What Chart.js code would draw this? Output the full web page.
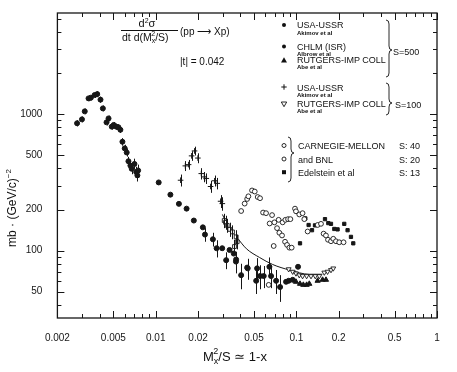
<!DOCTYPE html>
<html><head><meta charset="utf-8">
<script src="https://cdn.jsdelivr.net/npm/chart.js@4/dist/chart.umd.min.js"></script>
<style>
html,body{margin:0;padding:0;background:#fff;}
#wrap{position:relative;width:457px;height:372px;overflow:hidden;background:#fff;}
#c{position:absolute;left:0;top:0;}
#ov{position:absolute;left:0;top:0;}
</style></head><body>
<div id="wrap">
<canvas id="c" width="457" height="372"></canvas>
<svg id="ov" width="457" height="372" font-family="Liberation Sans, Arial, sans-serif" fill="#111">
  <!-- formula -->
  <text x="147" y="27" font-size="11" text-anchor="middle">d<tspan dy="-4" font-size="7">2</tspan><tspan dy="4">σ</tspan></text>
  <line x1="121" y1="30.5" x2="178" y2="30.5" stroke="#111" stroke-width="1"/>
  <text x="122" y="41" font-size="10.5">dt d(M<tspan font-size="7" dy="2">x</tspan><tspan font-size="7" dx="-4" dy="-7">2</tspan><tspan dy="5">/S)</tspan></text>
  <text x="180" y="35" font-size="10">(pp ⟶ Xp)</text>
  <text x="180" y="65" font-size="10">|t| = 0.042</text>
  <!-- legend markers -->
  <circle cx="284" cy="25" r="2"/>
  <circle cx="284" cy="46.5" r="2"/>
  <path d="M281 62.5 L287 62.5 L284 57.3 Z"/>
  <path d="M281.3 87 H286.7 M284 84.3 V89.7" stroke="#111" stroke-width="1"/>
  <path d="M281.3 102 L286.7 102 L284 106.7 Z" fill="none" stroke="#111" stroke-width="0.9"/>
  <circle cx="284" cy="145.5" r="2" fill="none" stroke="#111" stroke-width="0.9"/>
  <circle cx="284" cy="159" r="2" fill="none" stroke="#111" stroke-width="0.9"/>
  <rect x="282" y="170.2" width="4" height="4"/>
  <!-- legend text -->
  <text x="297" y="28" font-size="9">USA-USSR</text>
  <text x="297" y="34.5" font-size="6" font-weight="bold">Akimov et al</text>
  <text x="297" y="49.8" font-size="9">CHLM (ISR)</text>
  <text x="297" y="55.5" font-size="6" font-weight="bold">Albrow et al</text>
  <text x="297" y="63" font-size="9">RUTGERS-IMP COLL</text>
  <text x="297" y="69" font-size="6" font-weight="bold">Abe  et al</text>
  <text x="297" y="90.5" font-size="9">USA-USSR</text>
  <text x="297" y="96.5" font-size="6" font-weight="bold">Akimov et al</text>
  <text x="297" y="107" font-size="9">RUTGERS-IMP COLL</text>
  <text x="297" y="113" font-size="6" font-weight="bold">Abe  et al</text>
  <text x="298" y="149" font-size="9">CARNEGIE-MELLON</text>
  <text x="298" y="162.5" font-size="9">and BNL</text>
  <text x="298" y="175.5" font-size="9">Edelstein et al</text>
  <text x="393" y="55" font-size="9">S=500</text>
  <text x="395" y="108" font-size="9">S=100</text>
  <text x="399" y="149" font-size="9">S: 40</text>
  <text x="399" y="162.5" font-size="9">S: 20</text>
  <text x="399" y="175.5" font-size="9">S:  13</text>
  <!-- braces -->
  <path d="M386 20 Q389 20 389 24 L389 46 Q389 50 392 50 Q389 50 389 54 L389 73 Q389 77 386 77" fill="none" stroke="#111" stroke-width="0.9"/>
  <path d="M386 83 Q389 83 389 87 L389 99 Q389 103 392 103 Q389 103 389 107 L389 111 Q389 115 386 115" fill="none" stroke="#111" stroke-width="0.9"/>
  <path d="M288 137 Q291 137 291 141 L291 149 Q291 153 294 153 Q291 153 291 157 L291 178 Q291 182 288 182" fill="none" stroke="#111" stroke-width="0.9"/>
  <!-- axis titles -->
  <text transform="translate(16,208) rotate(-90)" text-anchor="middle" font-size="12">mb · (GeV/c)<tspan dy="-5" font-size="8">−2</tspan></text>
  <text x="203" y="361" font-size="13">M<tspan font-size="9" dy="3">x</tspan><tspan font-size="9" dx="-5" dy="-10">2</tspan><tspan dy="7">/S  ≃  1-x</tspan></text>
</svg>
</div>
<script>
// ---------- tick labels ----------
const xTickValues = [0.002, 0.005, 0.01, 0.02, 0.05, 0.1, 0.2, 0.5, 1];
const yTickValues = [50, 100, 200, 500, 1000];

// ---------- S=500 : USA-USSR (Akimov et al), filled circles ----------
const usa500X = [0.00276,0.00299,0.00313,0.00333,0.00346,0.00368,0.00384,0.00405,0.00421,0.00447,0.00462,0.00487,0.00503,0.00524,0.00543,0.00561,0.0058,0.00602,0.00622,0.0064,0.00661,0.00675,0.00706,0.00727,0.0075,0.00741,
                 0.0224,0.0255,0.0271,0.0317,0.0372,0.0405,0.0451,0.0526,0.0518,0.0552,0.0586,0.0643,0.0661,0.0718,0.0766];
const usa500Y = [859,917,1050,1307,1323,1383,1405,1280,1104,872,932,811,835,811,803,769,628,562,524,452,420,398,432,377,387,356,
                 131,121,104,85,83,66,74,74,60,65,65,76,65,60,54];
const usa500Err = [45,45,50,60,60,65,70,65,55,45,45,40,40,40,40,40,40,35,35,35,35,35,40,35,40,35,
                   15,14,15,12,15,14,13,14,12,13,12,13,12,12,12];

// ---------- S=500 : CHLM (ISR) (Albrow et al), filled dots ----------
const chlmX = [0.0105,0.01272,0.01462,0.01658,0.01867,0.02164,0.0297,0.0335,0.0359,0.0373,0.0447,0.0845,0.0882,0.0942,0.1028];
const chlmY = [316,257,220,203,166,148,104,101,95,86,75,59,60,61,76];

// ---------- S=500 : RUTGERS-IMP COLL (Abe et al), filled triangles ----------
const rut500X = [0.0994,0.1062,0.1121,0.1183,0.1236,0.1416,0.1536,0.1624];
const rut500Y = [59,57,56,56,57,60,61,61];

// ---------- S=100 : USA-USSR (Akimov et al), crosses ----------
const usa100X = [0.01503,0.01624,0.01713,0.018,0.01889,0.01995,0.02109,0.02215,0.02289,0.02456,0.02622,0.0274,0.02893,0.02976];
const usa100Y = [328,418,427,495,538,477,367,347,338,295,325,311,230,221];
const usa100Err = [33,35,35,40,40,40,35,30,30,30,30,30,25,25];

// ---------- S=100 : RUTGERS-IMP COLL (Abe et al), open triangles / boxes ----------
const rut100X = [0.0882,0.0942,0.0994,0.1049,0.1107,0.1183,0.1271,0.1363,0.1456,0.158,0.1667,0.1763,0.183];
const rut100Y = [73,70,68,66,65,65,65,65,65,69,70,72,74];
const rut100BoxX = [0.0307,0.03135,0.03223,0.03363,0.03515,0.03733,0.03632,0.03795];
const rut100BoxY = [166,161,153,143,137,126,107,116];
const rut100BoxErr = [20,19,18,17,16,15,13,14];

// ---------- S=40 / S=20 : CARNEGIE-MELLON and BNL, open circles ----------
const cm40X = [0.0405,0.0429,0.0447,0.0456,0.0484,0.0506,0.0531,0.0552,0.058,0.0609,0.0646,0.0672,0.069,0.0698,0.0729,0.0748,0.0757,0.0791,0.0831,0.0859,0.0892,0.0926,0.0636];
const cm40Y = [195,221,239,250,276,271,247,242,190,188,158,182,108,161,146,168,135,129,116,110,105,105,56];
const cm20X = [0.0799,0.0835,0.0873,0.0907,0.0978,0.0994,0.1049,0.1107,0.1139,0.1203,0.1416,0.1497,0.1562,0.1624,0.1679,0.1763,0.183,0.1912,0.2018,0.2166];
const cm20Y = [161,168,170,170,203,194,184,188,170,138,154,157,133,129,120,117,122,117,115,115];

// ---------- S=13 : Edelstein et al, filled squares ----------
const ed13X = [0.1062,0.1158,0.1222,0.1292,0.1357,0.1598,0.1687,0.1763,0.1861,0.1964,0.2191,0.2313,0.2445,0.2539];
const ed13Y = [113,172,154,141,153,170,159,157,144,143,157,141,126,113];

// ---------- fitted curve ----------
const fitX = [0.0298,0.0335,0.0375,0.0442,0.0547,0.0679,0.0892,0.1236,0.1528];
const fitY = [184,144,126,103,89,79,72,67,67];

// ---------- build ----------
const pts = (xs, ys) => xs.map((x, i) => ({x: x, y: ys[i]}));
const INK = '#161616';

function minorList(lo, hi) {
  const out = [];
  for (let d = -3; d <= 4; d++) {
    for (let m = 1; m <= 9; m++) {
      const v = +(m * Math.pow(10, d)).toPrecision(6);
      if (v >= lo * 0.9999 && v <= hi * 1.0001) out.push(v);
    }
  }
  return out;
}
const X_MIN = 0.002, X_MAX = 1, Y_MIN = 32, Y_MAX = 5530;

const framePlugin = {
  id: 'frame',
  afterDatasetsDraw(chart) {
    const ctx = chart.ctx, xs = chart.scales.x, ys = chart.scales.y;
    ctx.save();
    ctx.strokeStyle = INK;
    ctx.lineWidth = 1;
    chart.data.datasets.forEach(ds => {
      if (!ds.errs) return;
      ds.data.forEach((p, i) => {
        const e = ds.errs[i];
        if (!e) return;
        const px = Math.round(xs.getPixelForValue(p.x)) + 0.5;
        ctx.beginPath();
        ctx.moveTo(px, ys.getPixelForValue(p.y + e));
        ctx.lineTo(px, ys.getPixelForValue(Math.max(p.y - e, 1)));
        ctx.stroke();
      });
    });
    ctx.restore();
  },
  afterDraw(chart) {
    const ctx = chart.ctx, a = chart.chartArea, xs = chart.scales.x, ys = chart.scales.y;
    ctx.save();
    ctx.strokeStyle = INK;
    ctx.lineWidth = 1.3;
    ctx.strokeRect(a.left, a.top, a.right - a.left, a.bottom - a.top);
    ctx.lineWidth = 1;
    const line = (x1, y1, x2, y2) => { ctx.beginPath(); ctx.moveTo(x1, y1); ctx.lineTo(x2, y2); ctx.stroke(); };
    minorList(X_MIN, X_MAX).forEach(v => {
      const px = Math.round(xs.getPixelForValue(v)) + 0.5;
      const L = xTickValues.includes(v) ? 7 : 4;
      line(px, a.bottom, px, a.bottom - L);
      line(px, a.top, px, a.top + L);
    });
    minorList(Y_MIN, Y_MAX).forEach(v => {
      const py = Math.round(ys.getPixelForValue(v)) + 0.5;
      const L = yTickValues.includes(v) ? 7 : 4;
      line(a.left, py, a.left + L, py);
      line(a.right, py, a.right - L, py);
    });
    ctx.restore();
  }
};

const ptDefaults = {showLine: false, borderColor: INK, borderWidth: 1};

new Chart(document.getElementById('c'), {
  type: 'scatter',
  data: {
    datasets: [
      Object.assign({}, ptDefaults, {label: 'USA-USSR S=500', data: pts(usa500X, usa500Y), errs: usa500Err, pointStyle: 'circle', pointRadius: 2.5, backgroundColor: INK}),
      Object.assign({}, ptDefaults, {label: 'CHLM (ISR) S=500', data: pts(chlmX, chlmY), pointStyle: 'circle', pointRadius: 2.5, backgroundColor: INK}),
      Object.assign({}, ptDefaults, {label: 'RUTGERS-IMP COLL S=500', data: pts(rut500X, rut500Y), pointStyle: 'triangle', pointRadius: 3, backgroundColor: INK}),
      Object.assign({}, ptDefaults, {label: 'USA-USSR S=100', data: pts(usa100X, usa100Y), errs: usa100Err, pointStyle: 'cross', pointRadius: 2.8, backgroundColor: INK}),
      Object.assign({}, ptDefaults, {label: 'RUTGERS-IMP COLL S=100', data: pts(rut100X, rut100Y), pointStyle: 'triangle', rotation: 180, pointRadius: 2.8, backgroundColor: '#fff', borderWidth: 0.9}),
      Object.assign({}, ptDefaults, {label: 'RUTGERS-IMP COLL S=100 (boxes)', data: pts(rut100BoxX, rut100BoxY), errs: rut100BoxErr, pointStyle: 'rect', pointRadius: 2.7, backgroundColor: '#fff', borderWidth: 0.9}),
      Object.assign({}, ptDefaults, {label: 'CARNEGIE-MELLON and BNL S=40', data: pts(cm40X, cm40Y), pointStyle: 'circle', pointRadius: 2.4, backgroundColor: '#fff', borderWidth: 0.9}),
      Object.assign({}, ptDefaults, {label: 'CARNEGIE-MELLON and BNL S=20', data: pts(cm20X, cm20Y), pointStyle: 'circle', pointRadius: 2.4, backgroundColor: '#fff', borderWidth: 0.9}),
      Object.assign({}, ptDefaults, {label: 'Edelstein et al S=13', data: pts(ed13X, ed13Y), pointStyle: 'rect', pointRadius: 2.3, backgroundColor: INK}),
      {label: 'fit', data: pts(fitX, fitY), showLine: true, pointRadius: 0, borderColor: INK, borderWidth: 1, cubicInterpolationMode: 'monotone', fill: false}
    ]
  },
  options: {
    responsive: false,
    devicePixelRatio: 1,
    animation: false,
    layout: {padding: {left: 0, right: 20, top: 5, bottom: 0}},
    plugins: {legend: {display: false}, tooltip: {enabled: false}},
    scales: {
      x: {
        type: 'logarithmic', min: X_MIN, max: X_MAX,
        afterBuildTicks(s) { s.ticks = xTickValues.map(v => ({value: v})); },
        afterFit(s) { s.height = 54; },
        grid: {display: false}, border: {display: false},
        ticks: {color: INK, padding: 6, font: {family: 'Liberation Sans, Arial, sans-serif', size: 10}, maxRotation: 0, autoSkip: false,
                callback: v => String(v)}
      },
      y: {
        type: 'logarithmic', min: Y_MIN, max: Y_MAX,
        afterBuildTicks(s) { s.ticks = yTickValues.map(v => ({value: v})); },
        afterFit(s) { s.width = 57.4; },
        grid: {display: false}, border: {display: false},
        ticks: {color: INK, padding: 7, font: {family: 'Liberation Sans, Arial, sans-serif', size: 10}, autoSkip: false,
                callback: v => String(v)}
      }
    }
  },
  plugins: [framePlugin]
});
</script>
</body></html>
